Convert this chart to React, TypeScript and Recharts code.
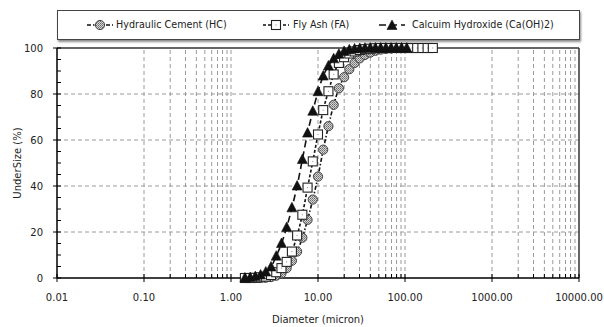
import React from 'react';
import { LineChart, Line, XAxis, YAxis, ReferenceLine } from 'recharts';

// particle size bins (micron)
const sizes = [
  1.445, 1.66, 1.905, 2.188, 2.512, 2.884, 3.311, 3.802, 4.365, 5.012, 5.754, 6.607, 7.586, 8.71,
  10.0, 11.48, 13.18, 15.14, 17.38, 19.95, 22.91, 26.3, 30.2, 34.67, 39.81, 45.71, 52.48, 60.26,
  69.18, 79.43, 91.2, 104.7, 120.2, 138.0, 158.5, 182.0, 208.9,
];

// cumulative undersize (%)
const hcValues = [
  null, 0, 0, 0.05, 0.15, 0.4, 1, 2, 4.3, 7.5, 11.5, 17.5, 25.3, 34.1,
  44.1, 55.8, 66, 75.3, 82.5, 87.3, 90.8, 93.5, 95.5, 97, 98, 98.8, 99.3, 99.6,
  99.8, 100, 100, 100, null, null, null, null, null,
];
const faValues = [
  0, 0, 0.1, 0.3, 0.6, 1.3, 2.5, 4.3, 7, 11.5, 18.5, 27.5, 39.3, 50.7,
  62.4, 73, 81.2, 88.5, 93.5, 96, 97.6, 98.5, 99.1, 99.5, 99.7, 99.9, 100, 100,
  100, 100, 100, 100, 100, 100, 100, 100, 100,
];
const chValues = [
  0, 0.2, 0.6, 1.3, 2.6, 4.8, 9.5, 15, 22, 30.5, 40, 51.5, 63, 72.5,
  81, 87.8, 92.2, 95.3, 97.3, 98.5, 99.2, 99.6, 99.8, 99.9, 100, 100, 100, 100,
  100, 100, 100, 100, null, null, null, null, null,
];

const xMajor = [0.01, 0.1, 1, 10, 100, 1000, 10000];
const xMajorLabels = ['0.01', '0.10', '1.00', '10.00', '100.00', '1000.00', '10000.00'];
const xMinor = [
  0.2, 0.3, 0.4, 0.5, 0.6, 0.7, 0.8, 0.9,
  20, 30, 40, 50, 60, 70, 80, 90,
  2000, 3000, 4000, 5000, 6000, 7000, 8000, 9000,
];
const xGrid = [
  0.1, 0.2, 0.3, 0.4, 0.5, 0.6, 0.7, 0.8, 0.9, 1,
  10, 20, 30, 40, 50, 60, 70, 80, 90, 100,
  1000, 2000, 3000, 4000, 5000, 6000, 7000, 8000, 9000,
];
const yTicks = [0, 5, 10, 15, 20, 25, 30, 35, 40, 45, 50, 55, 60, 65, 70, 75, 80, 85, 90, 95, 100];
const yMajor = [0, 20, 40, 60, 80, 100];
const yGrid = [20, 40, 60, 80];

const toPoints = (vals: (number | null)[]) =>
  sizes.map((d, i) => ({ d, v: vals[i] })).filter((p) => p.v !== null);

const hcData = toPoints(hcValues);
const faData = toPoints(faValues);
const chData = toPoints(chValues);

const FONT = 'DejaVu Sans';
const gridStroke = '#9a9a9a';

const XTick = ({ x, y, payload }: any) => {
  const idx = xMajor.indexOf(payload.value);
  const major = idx >= 0;
  return (
    <g>
      <line x1={x} x2={x} y1={y - 4} y2={major ? y + 4 : y} stroke="#000" strokeWidth={1} />
      {major && (
        <text x={x} y={y + 23} textAnchor="middle" fontSize={10} fontFamily={FONT} fill="#222">
          {xMajorLabels[idx]}
        </text>
      )}
    </g>
  );
};

const YTick = ({ x, y, payload }: any) => {
  const major = yMajor.includes(payload.value);
  return (
    <g>
      <line x1={major ? x - 4 : x} x2={x + 4} y1={y} y2={y} stroke="#000" strokeWidth={1} />
      {major && (
        <text x={x - 14} y={y + 3.5} textAnchor="end" fontSize={10} fontFamily={FONT} fill="#222">
          {payload.value}
        </text>
      )}
    </g>
  );
};

const HcDot = ({ cx, cy }: any) =>
  cx == null ? null : <circle cx={cx} cy={cy} r={4.6} fill="url(#hcHatch)" stroke="#444" strokeWidth={1} />;

const FaDot = ({ cx, cy }: any) =>
  cx == null ? null : (
    <g>
      <rect x={cx - 4.5} y={cy - 4.5} width={9} height={9} fill="#fff" stroke="#222" strokeWidth={1.1} />
      <rect x={cx - 0.5} y={cy - 0.5} width={1} height={1} fill="#888" />
    </g>
  );

const ChDot = ({ cx, cy }: any) =>
  cx == null ? null : (
    <path d={`M${cx},${cy - 5.5}L${cx + 5},${cy + 4}L${cx - 5},${cy + 4}Z`} fill="#111" stroke="#111" strokeWidth={0.6} />
  );

const LegendIcon = ({ dash, children }: { dash: string; children: React.ReactNode }) => (
  <svg width={28} height={12} style={{ display: 'block' }}>
    <line x1={1} x2={27} y1={6} y2={6} stroke="#111" strokeWidth={1.6} strokeDasharray={dash} />
    {children}
  </svg>
);

const legendItems = [
  { name: 'Hydraulic Cement (HC)', dash: '4 2 1.5 2', icon: <HcDot cx={14} cy={6} />, iconLeft: 28, textLeft: 58 },
  { name: 'Fly Ash (FA)', dash: '3 2', icon: <FaDot cx={14} cy={6} />, iconLeft: 204, textLeft: 235 },
  { name: 'Calcuim Hydroxide (Ca(OH)2)', dash: '7 4', icon: <ChDot cx={14} cy={6.5} />, iconLeft: 320, textLeft: 354 },
];

export default function App() {
  return (
    <div style={{ position: 'absolute', left: 0, top: 0, width: 604, height: 327, background: '#fff' }}>
      <svg width={0} height={0} style={{ position: 'absolute' }}>
        <defs>
          <pattern id="hcHatch" width={2} height={2} patternUnits="userSpaceOnUse">
            <rect width={2} height={2} fill="#d4d4d4" />
            <rect width={1} height={1} fill="#6a6a6a" />
            <rect x={1} y={1} width={1} height={1} fill="#8a8a8a" />
          </pattern>
        </defs>
      </svg>
      <LineChart width={604} height={327} margin={{ top: 48, right: 25, left: 0, bottom: 0 }}>
        {yGrid.map((v) => (
          <ReferenceLine key={'gy' + v} y={v} stroke={gridStroke} strokeDasharray="4 3" />
        ))}
        {xGrid.map((v) => (
          <ReferenceLine key={'gx' + v} x={v} stroke={gridStroke} strokeDasharray="4 3" />
        ))}
        <ReferenceLine y={100} stroke="#333" strokeWidth={1.5} />
        <ReferenceLine x={10000} stroke="#333" strokeWidth={1.5} />
        <XAxis
          type="number"
          dataKey="d"
          scale="log"
          domain={[0.01, 10000]}
          ticks={[...xMajor, ...xMinor]}
          interval={0}
          allowDataOverflow
          height={49}
          tickSize={0}
          tickMargin={0}
          tickLine={false}
          tick={<XTick />}
          axisLine={{ stroke: '#000', strokeWidth: 1.5 }}
          label={{ value: 'Diameter (micron)', position: 'insideBottom', offset: 4, fontSize: 10, fontFamily: FONT, fill: '#222' }}
        />
        <YAxis
          type="number"
          domain={[0, 100]}
          ticks={yTicks}
          interval={0}
          width={57}
          tickSize={0}
          tickMargin={0}
          tickLine={false}
          tick={<YTick />}
          axisLine={{ stroke: '#000', strokeWidth: 1.5 }}
          label={{ value: 'UnderSize (%)', angle: -90, position: 'insideLeft', offset: 17, fontSize: 10, fontFamily: FONT, fill: '#222', style: { textAnchor: 'middle' } }}
        />
        <Line
          data={hcData}
          dataKey="v"
          name="Hydraulic Cement (HC)"
          type="monotone"
          stroke="#111"
          strokeWidth={1.6}
          strokeDasharray="4 2 1.5 2"
          dot={(p: any) => <HcDot key={'hc' + p.index} {...p} />}
          activeDot={false}
          isAnimationActive={false}
        />
        <Line
          data={faData}
          dataKey="v"
          name="Fly Ash (FA)"
          type="monotone"
          stroke="#111"
          strokeWidth={1.6}
          strokeDasharray="3 2"
          dot={(p: any) => <FaDot key={'fa' + p.index} {...p} />}
          activeDot={false}
          isAnimationActive={false}
        />
        <Line
          data={chData}
          dataKey="v"
          name="Calcuim Hydroxide (Ca(OH)2)"
          type="monotone"
          stroke="#111"
          strokeWidth={1.6}
          strokeDasharray="7 4"
          dot={(p: any) => <ChDot key={'ch' + p.index} {...p} />}
          activeDot={false}
          isAnimationActive={false}
        />
      </LineChart>
      <div
        style={{
          position: 'absolute',
          left: 57,
          top: 10,
          width: 523,
          height: 30,
          boxSizing: 'border-box',
          border: '1px solid #444',
          boxShadow: '1px 2px 2px rgba(0,0,0,0.45)',
          background: '#fff',
          fontFamily: FONT,
          fontSize: 9.6,
          color: '#222',
        }}
      >
        {legendItems.map((it) => (
          <React.Fragment key={it.name}>
            <div style={{ position: 'absolute', left: it.iconLeft, top: 8 }}>
              <LegendIcon dash={it.dash}>{it.icon}</LegendIcon>
            </div>
            <div style={{ position: 'absolute', left: it.textLeft, top: 0, lineHeight: '28px', whiteSpace: 'nowrap' }}>
              {it.name}
            </div>
          </React.Fragment>
        ))}
      </div>
    </div>
  );
}
